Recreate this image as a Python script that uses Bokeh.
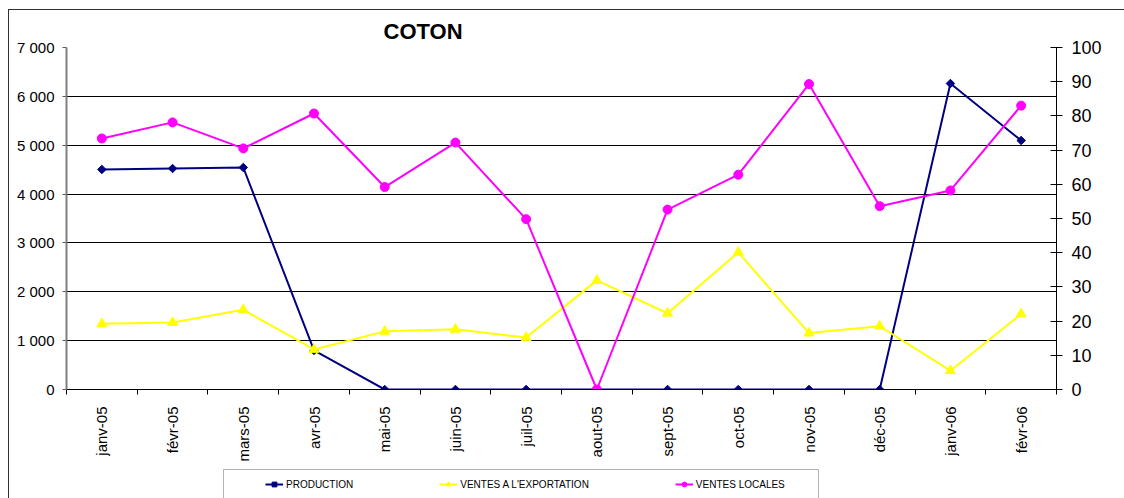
import math
from bokeh.plotting import figure
from bokeh.models import (Range1d, LinearAxis, FixedTicker, Legend, LegendItem,
                          BoxAnnotation, Spacer)
from bokeh.layouts import column, row
from bokeh.embed import file_html
from bokeh.resources import INLINE

# ---- data ----
months = ["janv-05", "févr-05", "mars-05", "avr-05", "mai-05", "juin-05", "juil-05",
          "aout-05", "sept-05", "oct-05", "nov-05", "déc-05", "janv-06", "févr-06"]
production = [4503, 4523, 4544, 800, 0, 0, 0, 0, 0, 0, 0, 0, 6263, 5097]          # left axis
ventes_export = [19.2, 19.6, 23.3, 11.7, 17.0, 17.6, 15.2, 31.9, 22.3, 40.1,
                 16.5, 18.5, 5.5, 22.1]                                            # right axis
ventes_locales = [73.4, 78.1, 70.5, 80.7, 59.2, 72.2, 49.8, 0.0, 52.6, 62.8,
                  89.3, 53.6, 58.2, 83.0]                                          # right axis
left_ticks = [0, 1000, 2000, 3000, 4000, 5000, 6000, 7000]
left_tick_labels = ["0", "1 000", "2 000", "3 000", "4 000", "5 000", "6 000", "7 000"]
right_ticks = [0, 10, 20, 30, 40, 50, 60, 70, 80, 90, 100]
title_text = "COTON"
series_names = ["PRODUCTION", "VENTES A L'EXPORTATION", "VENTES LOCALES"]

FONT = "Liberation Sans"
NAVY, YELLOW, MAGENTA = "#000080", "#FFFF00", "#FF00FF"
xs = list(range(len(months)))

W = 1115
HA = 455
HB = 33

p = figure(width=W, height=HA, output_backend="svg", toolbar_location=None,
           x_range=Range1d(-0.5, len(months) - 0.5), y_range=Range1d(0, 7000),
           min_border_left=57, min_border_right=68, min_border_top=37,
           min_border_bottom=76, title=title_text)
p.outline_line_color = None
p.background_fill_color = "white"
p.border_fill_color = "white"
p.extra_y_ranges = {"right": Range1d(0, 100)}

p.title.text_font = FONT
p.title.text_font_size = "22px"
p.title.text_font_style = "bold"
p.title.text_color = "black"
p.title.align = "left"
p.title.offset = 317
p.title.standoff = 8

# grid
p.xgrid.visible = False
p.ygrid.ticker = FixedTicker(ticks=left_ticks)
p.ygrid.grid_line_color = "black"
p.ygrid.grid_line_width = 1

# x axis
xa = p.xaxis[0]
xa.ticker = FixedTicker(ticks=xs, minor_ticks=[i - 0.5 for i in range(len(months) + 1)])
xa.major_label_overrides = {i: m for i, m in enumerate(months)}
xa.major_label_orientation = math.pi / 2
xa.major_tick_out = 0
xa.major_tick_in = 0
xa.minor_tick_out = 5
xa.minor_tick_in = 0
xa.minor_tick_line_color = "black"
xa.axis_line_color = "black"
xa.major_label_standoff = 12
xa.major_label_text_font = FONT
xa.major_label_text_font_size = "15px"
xa.major_label_text_color = "black"

# left axis
ya = p.yaxis[0]
ya.ticker = FixedTicker(ticks=left_ticks)
ya.major_label_overrides = {t: l for t, l in zip(left_ticks, left_tick_labels)}
ya.major_tick_out = 4
ya.major_tick_in = 0
ya.minor_tick_out = 0
ya.minor_tick_in = 0
ya.axis_line_color = "#808080"
ya.axis_line_width = 2
ya.major_tick_line_color = "#606060"
ya.major_label_standoff = 8
ya.major_label_text_font = FONT
ya.major_label_text_font_size = "15px"
ya.major_label_text_color = "black"

# right axis
ra = LinearAxis(y_range_name="right", ticker=FixedTicker(ticks=right_ticks))
ra.major_tick_out = 6
ra.major_tick_in = 6
ra.minor_tick_out = 0
ra.minor_tick_in = 0
ra.axis_line_color = "black"
ra.major_tick_line_color = "black"
ra.major_label_standoff = 9
ra.major_label_text_font = FONT
ra.major_label_text_font_size = "18px"
ra.major_label_text_color = "black"
p.add_layout(ra, "right")

# series
p.line(xs, production, line_color=NAVY, line_width=2)
p.scatter(xs, production, marker="square", angle=math.pi / 4, size=6,
          fill_color=NAVY, line_color=NAVY)
p.line(xs, ventes_export, line_color=YELLOW, line_width=2, y_range_name="right")
p.scatter(xs, ventes_export, marker="triangle", size=10, fill_color=YELLOW,
          line_color=YELLOW, y_range_name="right")
p.line(xs, ventes_locales, line_color=MAGENTA, line_width=2, y_range_name="right")
p.scatter(xs, ventes_locales, marker="circle", size=9, fill_color=MAGENTA,
          line_color=MAGENTA, y_range_name="right")

# ---- legend strip (separate figure below the chart) ----
q = figure(width=W, height=HB, output_backend="svg", toolbar_location=None,
           x_range=Range1d(0, W), y_range=Range1d(0, HB),
           min_border=0, x_axis_location=None, y_axis_location=None)
q.outline_line_color = None
q.grid.visible = False
q.background_fill_color = "white"
q.border_fill_color = "white"

off = [-100]
styles = [(NAVY, "square", math.pi / 4, 6), (YELLOW, "triangle", 0, 10),
          (MAGENTA, "circle", 0, 9)]
items = []
for name, (col, mk, ang, sz) in zip(series_names, styles):
    lr = q.line(off, off, line_color=col, line_width=2)
    sr = q.scatter(off, off, marker=mk, angle=ang, size=sz, fill_color=col, line_color=col)
    items.append(LegendItem(label=name, renderers=[lr, sr]))

legend = Legend(items=items, orientation="horizontal", location=(195, 4),
                padding=4, spacing=86, glyph_width=18, glyph_height=12,
                label_height=12, label_standoff=3,
                label_text_font=FONT, label_text_font_size="10px",
                label_text_color="black",
                background_fill_alpha=0, border_line_alpha=0)
q.add_layout(legend, "center")
q.add_layout(BoxAnnotation(left=214, right=809, top=4, bottom=200,
                           left_units="canvas", right_units="canvas",
                           top_units="canvas", bottom_units="canvas",
                           fill_alpha=0, line_color="black", line_width=1))

# ---- chart border (left and top edges) ----
layout = column(
    Spacer(width=1124, height=9),
    row(Spacer(width=8, height=1), Spacer(width=1116, height=1,
                                          styles={"background-color": "#303030"})),
    row(Spacer(width=8, height=HA + HB),
        Spacer(width=1, height=HA + HB, styles={"background-color": "#303030"}),
        column(p, q)),
)

open("out.html", "w").write(file_html(layout, INLINE))
